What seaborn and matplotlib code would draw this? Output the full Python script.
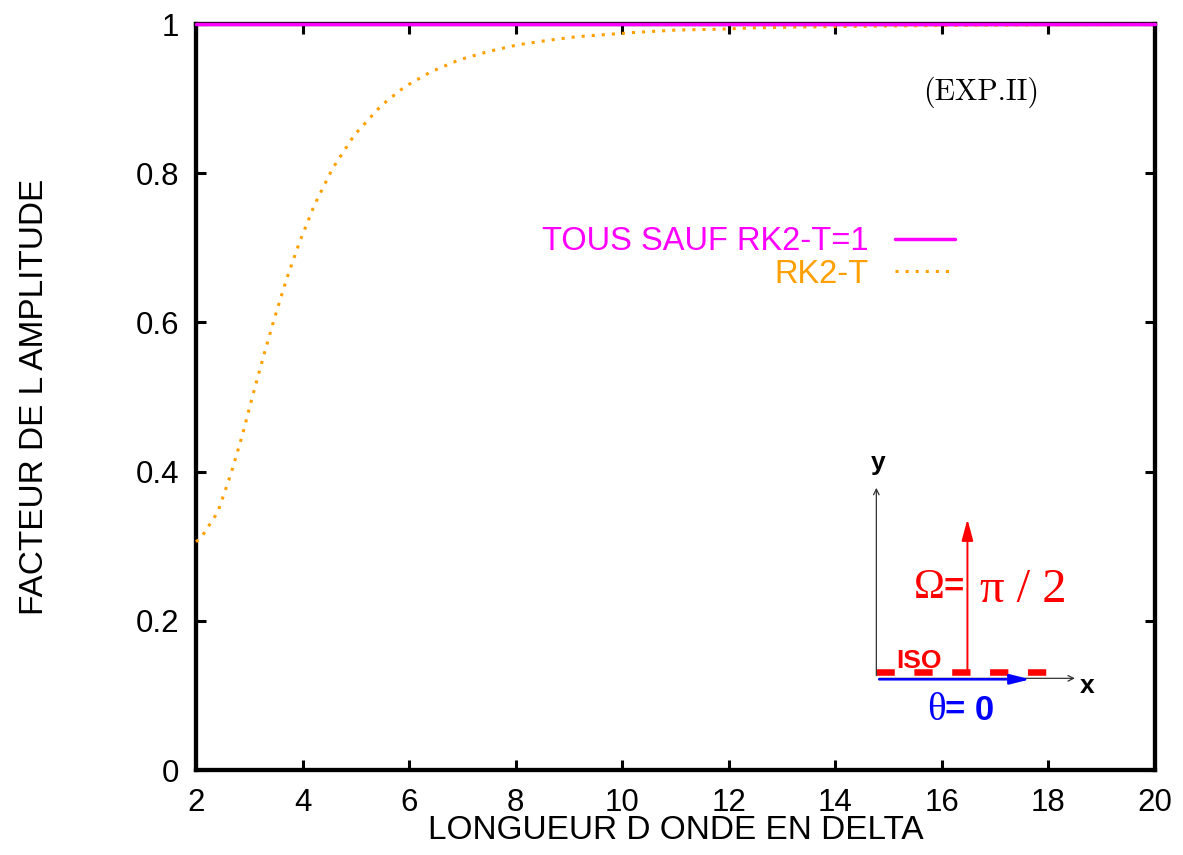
import matplotlib
matplotlib.use("Agg")
import matplotlib.pyplot as plt
import seaborn as sns
import pandas as pd

# data
lam_all = [2.0, 20.0]
amp_all = [1.0, 1.0]

lam_rk2t = [2.0, 2.09, 2.41, 2.66, 2.87, 3.06, 3.26, 3.47, 3.69, 3.94, 4.22, 4.56,
            4.97, 5.48, 5.92, 6.41, 6.94, 7.48, 8.03, 8.59, 9.15, 9.72, 10.29,
            11.04, 11.79, 12.55, 13.3, 14.5, 16.0, 18.0, 20.0]
amp_rk2t = [0.306, 0.311, 0.346, 0.398, 0.449, 0.501, 0.553, 0.605, 0.656, 0.707,
            0.757, 0.806, 0.851, 0.891, 0.916, 0.936, 0.952, 0.963, 0.972, 0.978,
            0.983, 0.986, 0.989, 0.992, 0.993, 0.995, 0.996, 0.997, 0.998, 0.999, 0.9995]

xticks = [2, 4, 6, 8, 10, 12, 14, 16, 18, 20]
yticks = [0, 0.2, 0.4, 0.6, 0.8, 1]
ytick_labels = ["0", "0.2", "0.4", "0.6", "0.8", "1"]

sns.set_style("ticks")
plt.rcParams["font.family"] = ["Liberation Sans", "DejaVu Sans"]
plt.rcParams["mathtext.fontset"] = "cm"
for k in ["text.color", "axes.labelcolor", "xtick.color", "ytick.color"]:
    plt.rcParams[k] = "black"

fig = plt.figure(figsize=(11.83, 8.55), dpi=100)
ax = fig.add_axes([0.1657, 0.0994, 0.8106, 0.8725])

df_all = pd.DataFrame({"lam": lam_all, "amp": amp_all})
df_rk = pd.DataFrame({"lam": lam_rk2t, "amp": amp_rk2t})

sns.lineplot(data=df_all, x="lam", y="amp", ax=ax, color="#ff00ff", lw=2.5,
             label="TOUS SAUF RK2-T=1", clip_on=False, zorder=5)
sns.lineplot(data=df_rk, x="lam", y="amp", ax=ax, color="#ffa000", lw=2.2,
             linestyle=(0, (1, 2.3)), label="RK2-T", clip_on=False, zorder=4)

ax.set_xlim(2, 20)
ax.set_ylim(0, 1)
ax.set_xticks(xticks)
ax.set_yticks(yticks)
ax.set_yticklabels(ytick_labels)
ax.tick_params(axis="both", direction="in", length=7, width=2.2, labelsize=22.5,
               top=True, right=True, color="black", labelcolor="black")
ax.tick_params(axis="x", pad=13)
ax.tick_params(axis="y", pad=12)
for s in ax.spines.values():
    s.set_linewidth(3.1)
    s.set_color("black")

ax.set_xlabel("LONGUEUR D ONDE EN DELTA", fontsize=24, labelpad=-2)
ax.set_ylabel("FACTEUR DE L AMPLITUDE", fontsize=24, labelpad=62)

leg = ax.legend(loc="center right", bbox_to_anchor=(0.7915, 0.6865), frameon=False,
                markerfirst=False, fontsize=23.5, handlelength=1.85, handletextpad=0.8,
                borderpad=0, borderaxespad=0, labelspacing=0.05)
for t, c in zip(leg.get_texts(), ["#ff00ff", "#ffa000"]):
    t.set_color(c)

ax.text(16.73, 0.909, "(EXP.II)", fontsize=21.5, family="cmr10", ha="center", va="center")

# inset sketch of the configuration
ax.annotate("", xy=(14.77, 0.382), xytext=(14.77, 0.1229),
            arrowprops=dict(arrowstyle="->", color="#333333", lw=0.9))
ax.annotate("", xy=(18.55, 0.1229), xytext=(14.77, 0.1229),
            arrowprops=dict(arrowstyle="->", color="#333333", lw=0.9))
ax.text(14.80, 0.411, "y", fontsize=19, fontweight="bold", ha="center", va="center")
ax.text(18.72, 0.113, "x", fontsize=19, fontweight="bold", ha="center", va="center")

ax.plot([14.77, 17.99], [0.1318, 0.1318], color="red", lw=4.7, dashes=(2.8, 3.0),
        solid_capstyle="butt", dash_capstyle="butt")
ax.text(15.58, 0.137, "ISO", fontsize=19, fontweight="bold", color="red",
        ha="center", va="baseline")
ax.annotate("", xy=(16.48, 0.340), xytext=(16.48, 0.131),
            arrowprops=dict(arrowstyle="-|>,head_length=1.3,head_width=0.35",
                            color="red", lw=1.4))
ax.text(16.06, 0.231, "\u03a9", fontsize=30, color="red", family="Liberation Serif",
        ha="right", va="baseline")
ax.text(16.04, 0.233, "=", fontsize=25, fontweight="bold", color="red",
        ha="left", va="baseline")
ax.text(16.71, 0.225, "\u03c0 / 2", fontsize=35, color="red", family="Liberation Serif",
        ha="left", va="baseline")

ax.annotate("", xy=(17.71, 0.1216), xytext=(14.77, 0.1216),
            arrowprops=dict(arrowstyle="-|>,head_length=1.2,head_width=0.3",
                            color="blue", lw=1.8))
ax.text(16.08, 0.080, "\u03b8", fontsize=28, color="blue", family="Liberation Serif",
        ha="right", va="center")
ax.text(16.06, 0.080, "= 0", fontsize=25, fontweight="bold", color="blue",
        ha="left", va="center")

fig.savefig("out.png", dpi=100)
